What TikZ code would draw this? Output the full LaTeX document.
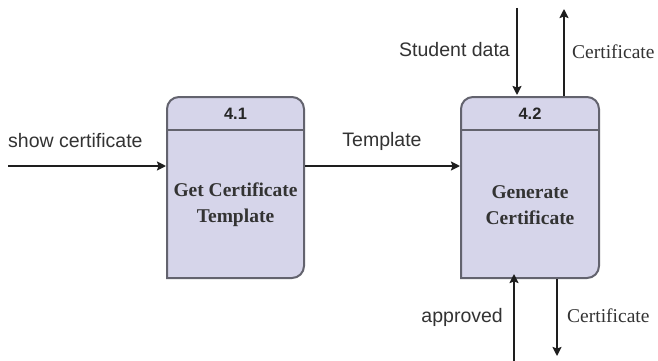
\documentclass[tikz,border=0pt]{standalone}
\usepackage{fontspec}
\setmainfont{Liberation Serif}
\setsansfont{Liberation Sans}
\usetikzlibrary{arrows.meta}
\definecolor{procfill}{HTML}{D6D5EA}
\definecolor{procline}{HTML}{63636E}
\definecolor{flowline}{HTML}{1E1E1E}
\definecolor{labeltext}{HTML}{333333}
\tikzset{
  procbox/.style={fill=procfill, draw=procline, line width=2pt},
  flow/.style={draw=flowline, line width=2pt, -{Stealth[length=9pt,width=9pt,inset=1.5pt]}},
  sanslabel/.style={font=\sffamily\fontsize{19.5}{22}\selectfont, text=labeltext, inner sep=0pt},
  seriflabel/.style={font=\rmfamily\fontsize{19.5}{22}\selectfont, text=labeltext, inner sep=0pt},
  procnum/.style={font=\sffamily\bfseries\fontsize{16.5}{19}\selectfont, text=black!85, inner sep=0pt},
  proctext/.style={font=\rmfamily\bfseries\fontsize{19.5}{26}\selectfont, text=black!80, align=center, inner sep=0pt},
}
\begin{document}
\begin{tikzpicture}[x=1pt,y=-1pt]
\useasboundingbox (0,0) rectangle (658,361);
\fill[white] (0,0) rectangle (658,361);

% process 4.1
\draw[procbox, rounded corners=12pt] (167,278) -- (167,97) -- (304,97) -- (304,278) [sharp corners] -- cycle;
\draw[procline, line width=2pt] (167,130) -- (304,130);
\node[procnum] (n41) at (235.5,114) {4.1};
\node[proctext] (t41) at (235.5,205) {Get Certificate\\Template};
\coordinate (p1w) at (166,166);
\coordinate (p1e) at (305,166);

% process 4.2
\draw[procbox, rounded corners=12pt] (461,278) -- (461,97) -- (599,97) -- (599,278) [sharp corners] -- cycle;
\draw[procline, line width=2pt] (461,130) -- (599,130);
\node[procnum] (n42) at (530,114) {4.2};
\node[proctext] (t42) at (530,205) {Generate\\Certificate};
\coordinate (p2w) at (460,166);
\coordinate (p2nin) at (517,95);
\coordinate (p2nout) at (564,96);
\coordinate (p2sin) at (514,274);
\coordinate (p2sout) at (557,279);

% external ends
\coordinate (srcshow) at (8,166);
\coordinate (srcstud) at (517,8);
\coordinate (dstcertup) at (564,9);
\coordinate (srcappr) at (514,361);
\coordinate (dstcertdn) at (557,356);

% flows
\draw[flow] (srcshow) -- (p1w);
\draw[flow] (p1e) -- (p2w);
\draw[flow] (srcstud) -- (p2nin);
\draw[flow] (p2nout) -- (dstcertup);
\draw[flow] (srcappr) -- (p2sin);
\draw[flow] (p2sout) -- (dstcertdn);

% flow labels
\node[sanslabel, anchor=west] (lshow) at (8,141) {show certificate};
\node[sanslabel] (ltmpl) at (382,141) {Template};
\node[sanslabel, anchor=east] (lstud) at (510,50) {Student data};
\node[seriflabel, anchor=west] (lcup) at (572,52) {Certificate};
\node[sanslabel, anchor=east] (lappr) at (503,317) {approved};
\node[seriflabel, anchor=west] (lcdn) at (567,316) {Certificate};
\end{tikzpicture}
\end{document}
